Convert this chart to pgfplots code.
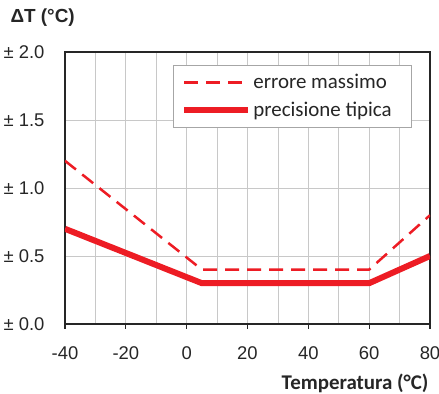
\documentclass[border=0pt]{standalone}
\usepackage{fontspec}
\setmainfont{Liberation Sans}
\newfontfamily\calibri{Carlito}
\usepackage{pgfplots}
\pgfplotsset{compat=1.18}
\definecolor{myred}{RGB}{237,28,36}
\definecolor{gridc}{RGB}{200,200,200}
\begin{document}
\begin{tikzpicture}
\begin{axis}[name=ax, scale only axis, width=365bp, height=272bp,
  xmin=-40, xmax=80, ymin=0, ymax=2,
  xtick={-40,-20,0,20,40,60,80}, xticklabels={-40,-20,0,20,40,60,80},
  minor xtick={-30,-10,10,30,50,70},
  ytick={0,0.5,1,1.5,2}, yticklabels={± 0.0,± 0.5,± 1.0,± 1.5,± 2.0},
  grid=both,
  major grid style={gridc, line width=0.8bp},
  minor grid style={gridc, line width=0.8bp},
  axis line style={black!85, line width=1.6bp},
  xtick style={black!85, line width=1.2bp},
  ytick style={draw=none},
  minor tick style={draw=none},
  tick align=outside, major tick length=5bp,
  xtick pos=bottom, ytick pos=left,
  tick label style={font=\fontsize{18.5}{20}\selectfont, text=black!85},
  xticklabel style={yshift=-14bp},
  yticklabel style={xshift=-12bp},
  legend style={at={(0.951,0.952)}, anchor=north east, draw=gray!70, line width=0.8bp,
    fill=white, font=\calibri\fontsize{21}{22}\selectfont, text=black!85,
    inner xsep=8bp, inner ysep=7bp, row sep=8bp},
  legend cell align=left,
  legend image code/.code={\draw[#1] (0bp,0bp) -- (64bp,0bp);},
]
\addplot[myred, line width=2.5bp, dash pattern=on 14bp off 8bp] coordinates {(-40,1.2) (5,0.4) (60,0.4) (80,0.8)};
\addlegendentry{errore massimo}
\addplot[myred, line width=6bp] coordinates {(-40,0.7) (5,0.3) (60,0.3) (80,0.5)};
\addlegendentry{precisione tipica\hspace*{10bp}}
\end{axis}
\node[anchor=west, font=\bfseries\fontsize{19}{20}\selectfont, text=black!85] at ([xshift=-58bp,yshift=34bp]ax.north west) {ΔT (°C)};
\node[anchor=east, font=\calibri\bfseries\fontsize{21}{22}\selectfont, text=black!85] at ([xshift=2bp,yshift=-59bp]ax.south east) {Temperatura (°C)};
\pgfresetboundingbox
\useasboundingbox ([xshift=-65bp,yshift=-70bp]ax.south west) rectangle ([xshift=9bp,yshift=52bp]ax.north east);
\end{tikzpicture}
\end{document}
